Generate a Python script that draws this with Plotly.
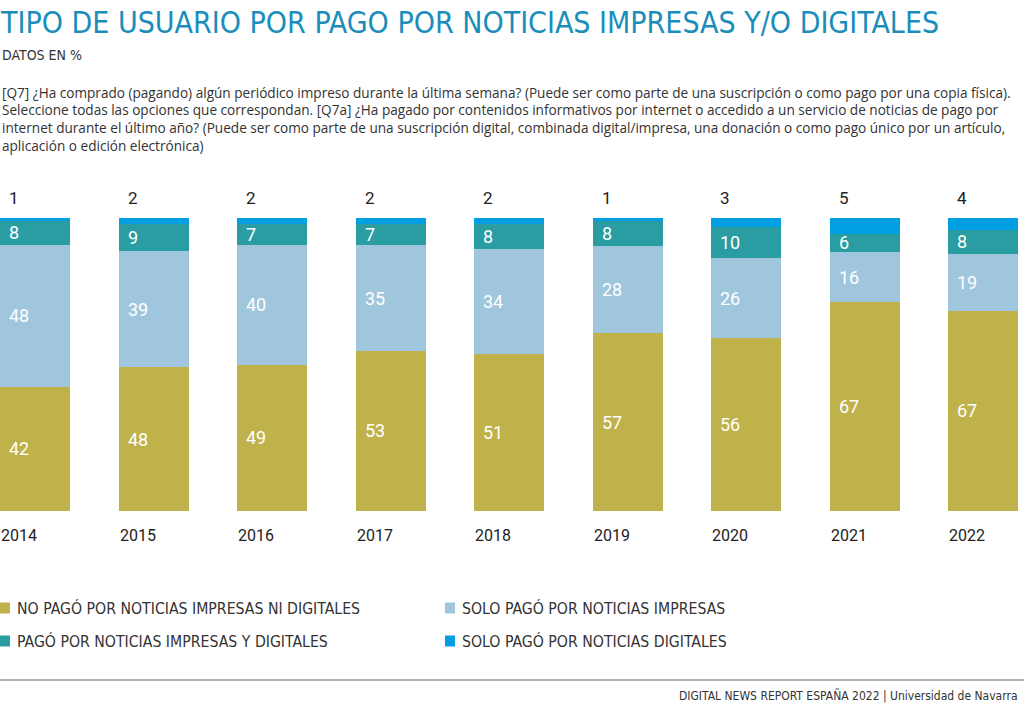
import plotly.graph_objects as go

years = ["2014", "2015", "2016", "2017", "2018", "2019", "2020", "2021", "2022"]
no_pago = [42, 48, 49, 53, 51, 57, 56, 67, 67]
solo_impresas = [48, 39, 40, 35, 34, 28, 26, 16, 19]
impresas_y_digitales = [8, 9, 7, 7, 8, 8, 10, 6, 8]
solo_digitales = [1, 2, 2, 2, 2, 1, 3, 5, 4]

series_names = [
    "NO PAGÓ POR NOTICIAS IMPRESAS NI DIGITALES",
    "SOLO PAGÓ POR NOTICIAS IMPRESAS",
    "PAGÓ POR NOTICIAS IMPRESAS Y DIGITALES",
    "SOLO PAGÓ POR NOTICIAS DIGITALES",
]
series_values = [no_pago, solo_impresas, impresas_y_digitales, solo_digitales]
colors = ["#BFB24B", "#9FC6DD", "#2A9DA3", "#009EE2"]

title = "TIPO DE USUARIO POR PAGO POR NOTICIAS IMPRESAS Y/O DIGITALES"
subtitle = "DATOS EN %"
question_lines = [
    "[Q7] ¿Ha comprado (pagando) algún periódico impreso durante la última semana? (Puede ser como parte de una suscripción o como pago por una copia física).",
    "Seleccione todas las opciones que correspondan. [Q7a] ¿Ha pagado por contenidos informativos por internet o accedido a un servicio de noticias de pago por",
    "internet durante el último año? (Puede ser como parte de una suscripción digital, combinada digital/impresa, una donación o como pago único por un artículo,",
    "aplicación o edición electrónica)",
]
footer = "DIGITAL NEWS REPORT ESPAÑA 2022 | Universidad de Navarra"

COND = "Liberation Sans Narrow, DejaVu Sans Condensed, Arial Narrow, sans-serif"
BODY = "Open Sans, Noto Sans, sans-serif"
NUM = "Roboto, Liberation Sans, sans-serif"

W, H = 1024, 707
ML, MR, MT, MB = 0, 6, 218, 196
n = len(years)
xs = list(range(n))
bw = 0.5907

fig = go.Figure()
for name, vals, col in zip(series_names, series_values, colors):
    fig.add_trace(go.Bar(x=xs, y=vals, name=name, marker=dict(color=col, line=dict(width=0)),
                         width=bw, showlegend=False, hoverinfo="skip"))

annotations = []
for i in range(n):
    tot = sum(s[i] for s in series_values)
    cum = 0
    for k, s in enumerate(series_values):
        v = s[i]
        mid = (cum + v / 2) / tot * 100
        cum += v
        if k < 3:
            annotations.append(dict(x=i - bw / 2, y=mid, xref="x", yref="y", text=str(v),
                                    showarrow=False, xanchor="left", yanchor="middle", xshift=7,
                                    font=dict(family=NUM, size=18, color="white")))
        else:
            annotations.append(dict(x=i - bw / 2, y=100, xref="x", yref="y", text=str(v),
                                    showarrow=False, xanchor="left", yanchor="bottom", xshift=7, yshift=8,
                                    font=dict(family=NUM, size=17, color="#222222")))
    annotations.append(dict(x=i - bw / 2, y=0, xref="x", yref="y", text=years[i],
                            showarrow=False, xanchor="left", yanchor="top", yshift=-13, xshift=-1,
                            font=dict(family=NUM, size=16, color="#222222")))

annotations.append(dict(x=0, y=1, xref="paper", yref="paper", xanchor="left", yanchor="top",
                        text=title, showarrow=False, xshift=-2, yshift=MT - 3,
                        font=dict(family=COND, size=30, color="#1A8DBB")))
annotations.append(dict(x=0, y=1, xref="paper", yref="paper", xanchor="left", yanchor="middle",
                        text=subtitle, showarrow=False, yshift=MT - 55,
                        font=dict(family=COND, size=14, color="#333333")))
for j, line in enumerate(question_lines):
    yc = 92 + 17.8 * j
    annotations.append(dict(x=0, y=1, xref="paper", yref="paper", xanchor="left", yanchor="middle",
                            text=line, showarrow=False, align="left", yshift=MT - yc,
                            font=dict(family=BODY, size=13.6, color="#333333")))
annotations.append(dict(x=1, y=0, xref="paper", yref="paper", xanchor="right", yanchor="top",
                        text=footer, showarrow=False, xshift=MR - 4, yshift=-175,
                        font=dict(family=COND, size=12, color="#333333")))

shapes = []
leg_pos = [(0, 608), (445, 608), (0, 641), (445, 641)]
pw = W - ML - MR
ph = H - MT - MB
for (lx, ly), name, col in zip(leg_pos, series_names, colors):
    px0 = (lx - ML) / pw
    py = 1 - (ly - MT) / ph
    shapes.append(dict(type="rect", xref="paper", yref="paper",
                       x0=px0, x1=(lx + 10 - ML) / pw, y0=py - 5.5 / ph, y1=py + 5.5 / ph,
                       fillcolor=col, line=dict(width=0)))
    annotations.append(dict(x=(lx + 15 - ML) / pw, y=py, xref="paper", yref="paper",
                            xanchor="left", yanchor="middle", text=name, showarrow=False,
                            font=dict(family=COND, size=15.7, color="#333333")))

shapes.append(dict(type="line", xref="paper", yref="paper", x0=0, x1=(W - ML) / pw,
                   y0=1 - (680 - MT) / ph, y1=1 - (680 - MT) / ph,
                   line=dict(color="#666666", width=1)))

fig.update_layout(
    width=W, height=H, barmode="stack", barnorm="percent",
    margin=dict(l=ML, r=MR, t=MT, b=MB, autoexpand=False),
    paper_bgcolor="white", plot_bgcolor="white",
    xaxis=dict(range=[-bw / 2, n - 1 + bw / 2], visible=False, fixedrange=True),
    yaxis=dict(range=[0, 100], visible=False, fixedrange=True),
    annotations=annotations, shapes=shapes, showlegend=False,
)

fig.write_html("out.html", config={"displayModeBar": False},
               post_script="document.body.style.margin='0';document.body.style.overflow='hidden';")
